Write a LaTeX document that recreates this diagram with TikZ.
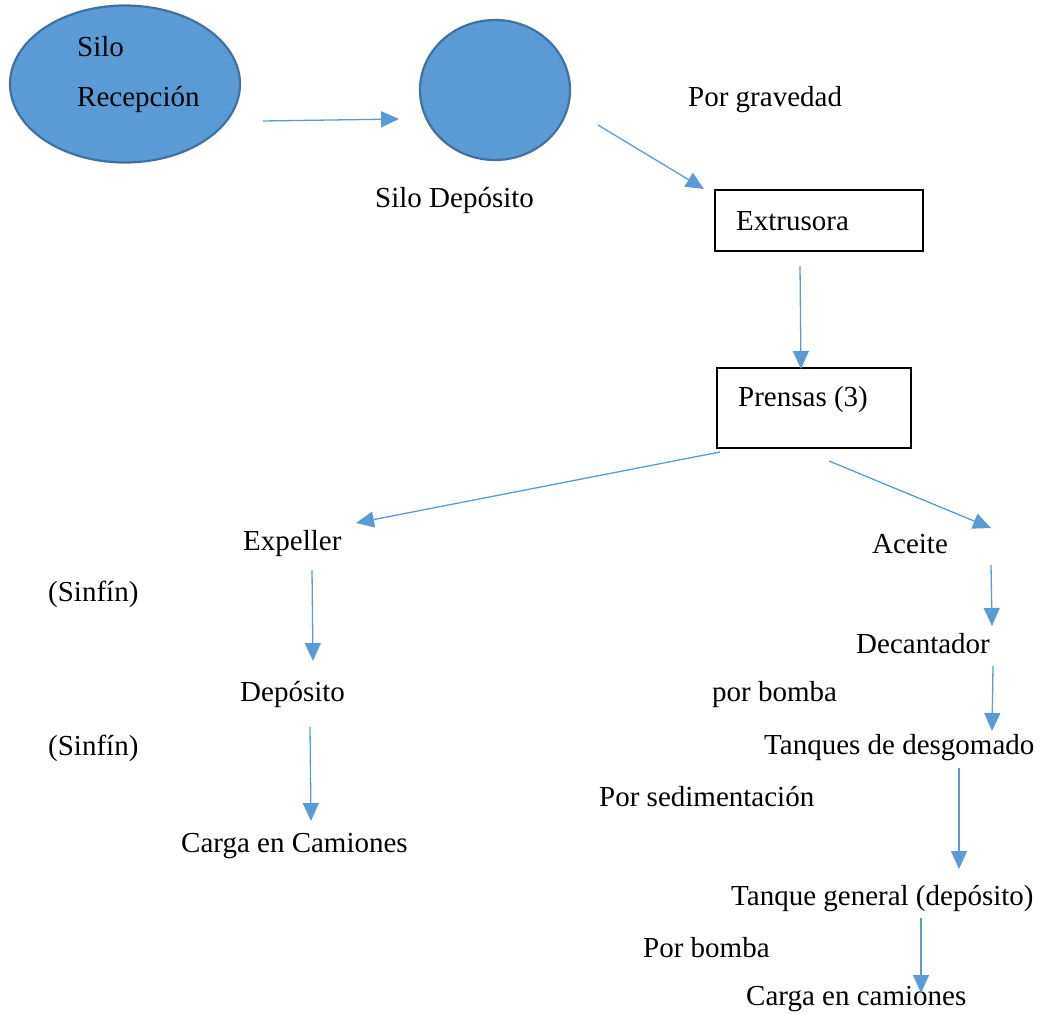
\documentclass[tikz,border=0pt]{standalone}
\usepackage{fontspec}
\setmainfont{Liberation Serif}
\usetikzlibrary{shapes.geometric,arrows.meta}
\definecolor{siloblue}{HTML}{5B9BD5}
\definecolor{siloedge}{HTML}{41719C}
\tikzset{
  flow/.style={draw=siloblue, line width=1.3pt, -{Triangle[length=18pt,width=16pt]}},
  silo/.style={ellipse, draw=siloedge, fill=siloblue, line width=2.2pt, inner sep=0pt},
  stage/.style={draw, line width=1.2pt, inner sep=0pt},
  lbl/.style={anchor=west, inner sep=0pt, yshift=-3pt, font=\fontsize{29}{35}\selectfont}
}
\begin{document}
\begin{tikzpicture}[x=1pt, y=-1pt]
        \useasboundingbox (0,0) rectangle (1046,1014);

        % Silos
        \node[silo, minimum width=230pt, minimum height=157pt] (recep) at (125,84) {};
        \node[lbl, align=left] (recepTxt) at (77,72) {Silo\\[15pt]Recepción};
        \node[silo, minimum width=150pt, minimum height=140pt] (depo) at (495,90) {};
        \node[lbl] (depoTxt) at (375,198) {Silo Depósito};
        \node[lbl] (grav) at (688,97) {Por gravedad};

        % Boxes
        \node[stage, minimum width=208pt, minimum height=61pt] (ext) at (819,220.5) {};
        \node[lbl] (extTxt) at (736,218) {Extrusora};
        \node[stage, minimum width=194pt, minimum height=80pt] (pre) at (814,408) {};
        \node[lbl] (preTxt) at (738,397) {Prensas (3)};

        % Left branch
        \node[lbl] (expel) at (243,541) {Expeller};
        \node[lbl] (sinA) at (48,591) {(Sinfín)};
        \node[lbl] (depL) at (240,691) {Depósito};
        \node[lbl] (sinB) at (48,745) {(Sinfín)};
        \node[lbl] (cargaL) at (181,843) {Carga en Camiones};

        % Right branch
        \node[lbl] (aceite) at (872,541) {Aceite};
        \node[lbl] (decant) at (856,641) {Decantador};
        \node[lbl] (bombaA) at (712,692) {por bomba};
        \node[lbl] (desgo) at (764,745) {Tanques de desgomado};
        \node[lbl] (sedim) at (599,794) {Por sedimentación};
        \node[lbl] (tgen) at (731,896) {Tanque general (depósito)};
        \node[lbl] (bombaB) at (643,945) {Por bomba};
        \node[lbl] (cargaR) at (746,996) {Carga en camiones};

        % Arrow ends
        \coordinate (r1) at (263,121);  \coordinate (r2) at (399,119);
        \coordinate (g1) at (598,125);  \coordinate (g2) at (704,189);
        \coordinate (e1) at (800,266);  \coordinate (e2) at (801,369);
        \coordinate (p1) at (720,452);  \coordinate (p2) at (356,523);
        \coordinate (q1) at (829,461);  \coordinate (q2) at (991,528);
        \coordinate (x1) at (312,570);  \coordinate (x2) at (313,661);
        \coordinate (d1) at (310,727);  \coordinate (d2) at (311,821);
        \coordinate (a1) at (991,565);  \coordinate (a2) at (992,626);
        \coordinate (c1) at (993,666);  \coordinate (c2) at (992,731);
        \coordinate (t1) at (959,768);  \coordinate (t2) at (959,869);
        \coordinate (u1) at (921,918);  \coordinate (u2) at (921,993);

        % Flows
        \draw[flow] (r1) -- (r2);
        \draw[flow] (g1) -- (g2);
        \draw[flow] (e1) -- (e2);
        \draw[flow] (p1) -- (p2);
        \draw[flow] (q1) -- (q2);
        \draw[flow] (x1) -- (x2);
        \draw[flow] (d1) -- (d2);
        \draw[flow] (a1) -- (a2);
        \draw[flow] (c1) -- (c2);
        \draw[flow] (t1) -- (t2);
        \draw[flow] (u1) -- (u2);
      \end{tikzpicture}
\end{document}
